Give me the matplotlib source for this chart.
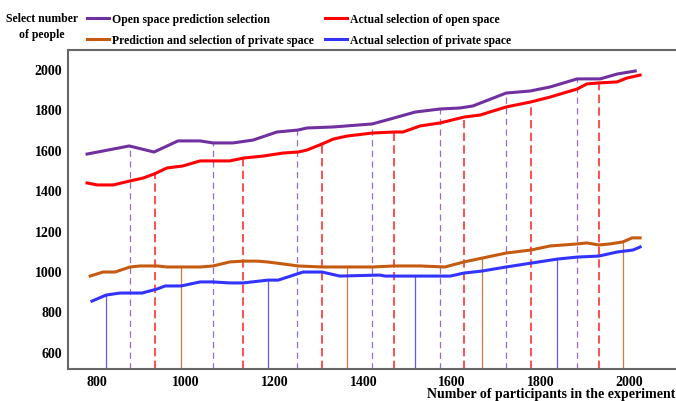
import numpy as np
import matplotlib
matplotlib.use('Agg')
import matplotlib.pyplot as plt

# curve readings (participants, number of people)
open_pred_x = [777, 872, 928, 982, 1032, 1061, 1106, 1151, 1205, 1253, 1273, 1332, 1420, 1460,
               1517, 1573, 1618, 1647, 1722, 1776, 1821, 1882, 1934, 1972, 2013]
open_pred_y = [1579, 1619, 1589, 1644, 1644, 1634, 1634, 1648, 1688, 1698, 1708, 1713, 1728, 1752,
               1787, 1802, 1807, 1817, 1881, 1891, 1911, 1951, 1951, 1975, 1990]

open_act_x = [777, 800, 836, 874, 903, 928, 957, 993, 1032, 1099, 1129, 1174, 1219, 1253, 1273,
              1307, 1332, 1363, 1420, 1469, 1489, 1528, 1573, 1627, 1663, 1722, 1778, 1821,
              1882, 1904, 1931, 1972, 1994, 2024]
open_act_y = [1436, 1426, 1426, 1446, 1460, 1480, 1510, 1520, 1545, 1545, 1559, 1569, 1584, 1589, 1599,
              1629, 1653, 1668, 1683, 1688, 1688, 1718, 1733, 1762, 1772, 1812, 1837, 1861,
              1901, 1926, 1931, 1936, 1955, 1970]

priv_pred_x = [784, 813, 840, 874, 897, 935, 957, 989, 1032, 1061, 1099, 1129, 1160, 1183, 1219,
               1253, 1307, 1363, 1420, 1469, 1528, 1584, 1627, 1668, 1722, 1778, 1821, 1882,
               1904, 1931, 1956, 1985, 2006, 2024]
priv_pred_y = [975, 995, 995, 1020, 1025, 1025, 1020, 1020, 1020, 1025, 1045, 1049, 1049, 1045, 1035,
               1025, 1020, 1020, 1020, 1025, 1025, 1020, 1045, 1064, 1089, 1104, 1124, 1134,
               1139, 1129, 1134, 1144, 1164, 1164]

priv_act_x = [788, 820, 851, 901, 935, 953, 989, 1032, 1061, 1099, 1129, 1185, 1208, 1264, 1307,
              1347, 1437, 1449, 1517, 1596, 1627, 1668, 1722, 1778, 1837, 1882, 1931, 1972,
              2008, 2024]
priv_act_y = [851, 881, 891, 891, 911, 926, 926, 946, 946, 941, 941, 955, 955, 995, 995,
              975, 980, 975, 975, 975, 990, 1000, 1020, 1039, 1059, 1069, 1074, 1094,
              1104, 1119]

# positions of the drop lines
open_pred_drops = [874, 1061, 1251, 1420, 1573, 1722, 1882]
open_act_drops = [930, 1129, 1307, 1469, 1627, 1778, 1931]
priv_pred_drops = [989, 1363, 1668, 1985]
priv_act_drops = [820, 1185, 1517, 1837]

x_ticks = [800, 1000, 1200, 1400, 1600, 1800, 2000]
y_ticks = [600, 800, 1000, 1200, 1400, 1600, 1800, 2000]

labels = ["Open space prediction selection", "Prediction and selection of private space",
          "Actual selection of open space", "Actual selection of private space"]

c_purple = '#7030a0'
c_red = '#ff0000'
c_brown = '#c55a11'
c_blue = '#3333ff'

plt.rcParams['font.family'] = 'Liberation Serif'
plt.rcParams['font.weight'] = 'bold'

fig = plt.figure(figsize=(6.76, 4.02), dpi=100)
ax = fig.add_axes([68 / 676, 32 / 402, 620 / 676, 319 / 402])
ax.set_xlim(734, 2132)
ax.set_ylim(515, 2094)
y0 = ax.get_ylim()[0]

# drop lines from the bottom up to each curve
ax.vlines(open_pred_drops, y0, np.interp(open_pred_drops, open_pred_x, open_pred_y),
          colors='#9a6acb', lw=0.9, linestyles=(0, (5, 3.5)), zorder=1)
ax.vlines(open_act_drops, y0, np.interp(open_act_drops, open_act_x, open_act_y),
          colors='#ff3030', lw=1.2, linestyles=(0, (5, 2.6)), zorder=1)
ax.vlines(priv_pred_drops, y0, np.interp(priv_pred_drops, priv_pred_x, priv_pred_y),
          colors='#cf7a40', lw=0.9, zorder=1)
ax.vlines(priv_act_drops, y0, np.interp(priv_act_drops, priv_act_x, priv_act_y),
          colors='#5a5aff', lw=0.9, zorder=1)

h1, = ax.plot(open_pred_x, open_pred_y, color=c_purple, lw=2.2, zorder=3)
h2, = ax.plot(priv_pred_x, priv_pred_y, color=c_brown, lw=2.2, zorder=3)
h3, = ax.plot(open_act_x, open_act_y, color=c_red, lw=2.2, zorder=3)
h4, = ax.plot(priv_act_x, priv_act_y, color=c_blue, lw=2.2, zorder=3)

ax.set_xticks(x_ticks)
ax.set_yticks(y_ticks)
ax.tick_params(length=0, labelsize=10, pad=4)
for s in ax.spines.values():
    s.set_color('#666666')
    s.set_linewidth(1.5)

fig.text(427 / 676, 1 - 395 / 402, "Number of participants in the experiment",
         fontsize=10, ha='left', va='center')
fig.text(42 / 676, 1 - 27 / 402, "Select number\nof people", fontsize=8.5,
         ha='center', va='center', linespacing=1.45)

fig.legend([h1, h2, h3, h4], labels, ncol=2, loc='upper left',
           bbox_to_anchor=(87 / 676, 1 - 14 / 402), frameon=False, fontsize=8.5,
           handlelength=1.9, handletextpad=0.2, columnspacing=0.95,
           labelspacing=0.75, borderpad=0, borderaxespad=0)

fig.savefig('out.png', dpi=100)
